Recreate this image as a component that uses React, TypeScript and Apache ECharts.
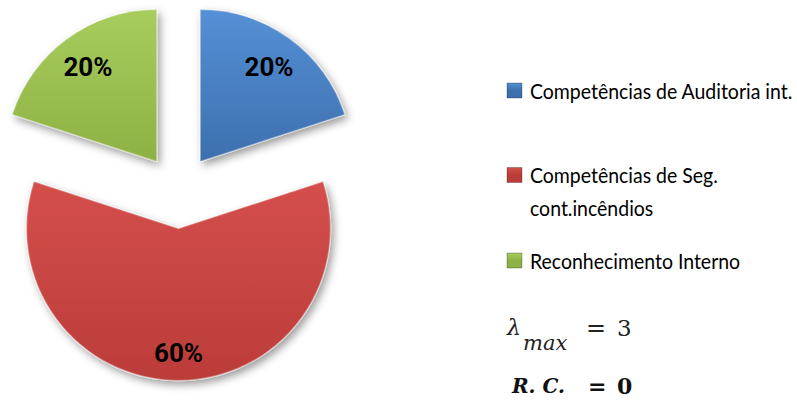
import React, { useEffect, useRef } from "react";
import * as echarts from "echarts";

// Categories and shares (percent)
const categories = [
  "Competências de Auditoria int.",
  "Competências de Seg. cont.incêndios",
  "Reconhecimento Interno",
];
const shares = [20, 60, 20];

// Legend text, one list of lines per category
const legendLines = [
  ["Competências de Auditoria int."],
  ["Competências de Seg.", "cont.incêndios"],
  ["Reconhecimento Interno"],
];

// Vertical gradient stops per slice: [top, bottom]
const sliceColors = [
  ["#5590d6", "#3d6fae"],
  ["#d44f4b", "#bb3c39"],
  ["#a8cc5d", "#8eb144"],
];

// Legend row centres (first line) and spacing between wrapped lines
const legendCentres = [90.5, 175, 260.5];
const LEGEND_LINE_GAP = 33;

const CENTER: [number, number] = [178.5, 191.5];
const RADIUS = 152;
const OFFSET = 37;
const LABEL_FONT = 'Roboto, "DejaVu Sans Condensed", sans-serif';
const LEGEND_FONT = 'Lato, "Noto Sans", sans-serif';
const MATH_FONT = '"DejaVu Serif", "Liberation Serif", serif';

function fill(i: number) {
  return new echarts.graphic.LinearGradient(0, 0, 0, 1, [
    { offset: 0, color: sliceColors[i][0] },
    { offset: 1, color: sliceColors[i][1] },
  ]);
}

function mathText(text: string, x: number, y: number, font: string, fillColor = "#222") {
  return {
    type: "text",
    x,
    y,
    style: { text, font, fill: fillColor, verticalAlign: "middle", align: "left" },
  };
}

// Legend rows: bevelled swatch plus (possibly wrapped) condensed label
function legendRow(i: number) {
  const cy = legendCentres[i];
  const children: any[] = [
    {
      type: "rect",
      shape: { x: 507, y: cy - 7.5, width: 15, height: 15 },
      style: {
        fill: new echarts.graphic.LinearGradient(0, 0, 0, 1, [
          { offset: 0, color: sliceColors[i][0] },
          { offset: 0.5, color: sliceColors[i][1] },
          { offset: 1, color: sliceColors[i][1] },
        ]),
        stroke: "rgba(0,0,0,0.25)",
        lineWidth: 1,
      },
    },
  ];
  legendLines[i].forEach((line, k) => {
    children.push({
      type: "text",
      x: 530,
      y: cy + k * LEGEND_LINE_GAP,
      scaleX: 0.885,
      style: {
        text: line,
        font: `22px ${LEGEND_FONT}`,
        fill: "#000",
        align: "left",
        verticalAlign: "middle",
      },
    });
  });
  return { type: "group", children };
}

// Transparent ring whose "inner" labels sit at distance d from the slice apex
function labelRing(d: number, shown: number[]) {
  return {
    type: "pie",
    center: CENTER,
    radius: [2 * d - RADIUS, RADIUS],
    startAngle: 90,
    clockwise: true,
    selectedMode: "multiple",
    selectedOffset: OFFSET,
    silent: true,
    legendHoverLink: false,
    emphasis: { disabled: true },
    itemStyle: { color: "rgba(0,0,0,0)" },
    labelLine: { show: false },
    label: {
      show: true,
      position: "inner",
      formatter: "{c}%",
      fontFamily: LABEL_FONT,
      fontWeight: "bold",
      fontSize: 26,
      color: "#000",
    },
    data: categories.map((name, i) => ({
      name,
      value: shares[i],
      selected: true,
      label: { show: shown.includes(i) },
    })),
  };
}

export default function App() {
  const ref = useRef<HTMLDivElement>(null);

  useEffect(() => {
    if (!ref.current) return;
    const chart = echarts.init(ref.current, undefined, { renderer: "svg" });

    const pieData = categories.map((name, i) => ({
      name,
      value: shares[i],
      selected: true,
      itemStyle: { color: fill(i) },
    }));

    chart.setOption({
      animation: false,
      backgroundColor: "#ffffff",
      series: [
        {
          type: "pie",
          center: CENTER,
          radius: RADIUS,
          startAngle: 90,
          clockwise: true,
          selectedMode: "multiple",
          selectedOffset: OFFSET,
          silent: true,
          label: { show: false },
          labelLine: { show: false },
          emphasis: { disabled: true },
          itemStyle: {
            borderColor: "rgba(255,255,255,0.3)",
            borderWidth: 1.5,
            shadowBlur: 8,
            shadowOffsetX: 3,
            shadowOffsetY: 4,
            shadowColor: "rgba(0,0,0,0.4)",
          },
          data: pieData,
        },
        labelRing(114, [0, 2]),
        labelRing(121, [1]),
      ],
      graphic: [
        ...categories.map((_, i) => legendRow(i)),
        mathText("λ", 507, 327.5, `italic 22px ${MATH_FONT}`),
        mathText("max", 523, 343, `italic 21px ${MATH_FONT}`),
        mathText("=", 586, 327.5, `24px ${MATH_FONT}`),
        mathText("3", 617, 327.5, `23px ${MATH_FONT}`),
        mathText("R. C.", 512, 386, `italic bold 20px ${MATH_FONT}`, "#111"),
        mathText("=", 588, 385.5, `bold 22px ${MATH_FONT}`, "#111"),
        mathText("0", 617, 385.5, `bold 22px ${MATH_FONT}`, "#111"),
      ],
    });

    return () => chart.dispose();
  }, []);

  return (
    <div
      ref={ref}
      style={{ position: "fixed", left: 0, top: 0, width: 797, height: 410 }}
    />
  );
}
